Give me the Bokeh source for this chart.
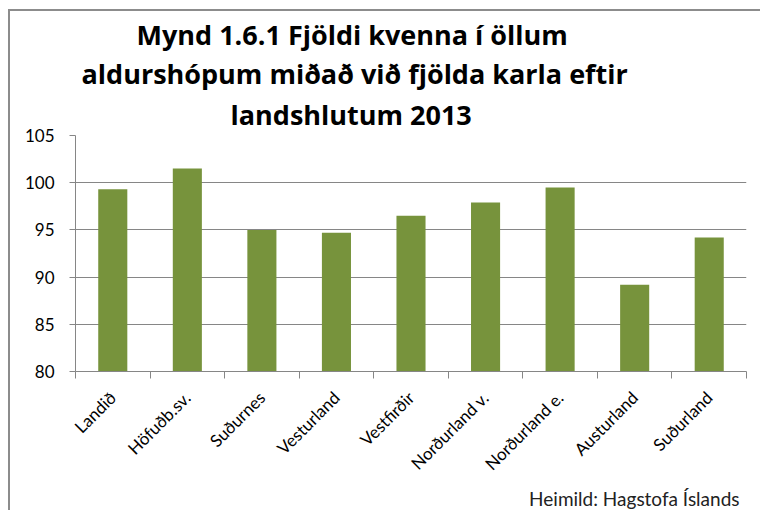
from math import pi
from bokeh.plotting import figure
from bokeh.models import Range1d, FixedTicker, Title, ColumnDataSource
from bokeh.embed import file_html
from bokeh.resources import INLINE

categories = ["Landið", "Höfuðb.sv.", "Suðurnes", "Vesturland", "Vestfirðir",
              "Norðurland v.", "Norðurland e.", "Austurland", "Suðurland"]
values = [99.3, 101.5, 95.0, 94.7, 96.5, 97.9, 99.5, 89.2, 94.2]
y_ticks = [80, 85, 90, 95, 100, 105]
title_lines = ["Mynd 1.6.1 Fjöldi kvenna í öllum",
               "aldurshópum miðað við fjölda karla eftir",
               "landshlutum 2013"]
title_offsets = [61, 6, 155]
source_text = "Heimild: Hagstofa Íslands"

GRID = "#868686"
BAR = "#77933C"
FONT = "Lato"
TFONT = "Open Sans"

centers = [i + 0.5 for i in range(len(categories))]
src = ColumnDataSource(dict(x=centers, top=values, cat=categories))

p = figure(width=752, height=501, output_backend="svg", toolbar_location=None,
           x_range=Range1d(0, len(categories)), y_range=Range1d(80, 105),
           min_border_left=65, min_border_right=16, min_border_top=124, min_border_bottom=141,
           outline_line_color=None, background_fill_color="white", border_fill_color="white",
           margin=(9, 0, 0, 8),
           styles={"border-left": "2px solid #8c8c8c", "border-top": "2px solid #8c8c8c"})

p.vbar(x="x", top="top", bottom=80, width=0.39, source=src, fill_color=BAR, line_color=None)

# y axis
p.yaxis.ticker = FixedTicker(ticks=y_ticks)
p.yaxis.axis_line_color = GRID
p.yaxis.major_tick_line_color = GRID
p.yaxis.major_tick_out = 6
p.yaxis.major_tick_in = 0
p.yaxis.minor_tick_line_color = None
p.yaxis.major_label_text_font = FONT
p.yaxis.major_label_text_font_size = "17px"
p.yaxis.major_label_text_color = "#000000"
p.yaxis.major_label_standoff = 15

# x axis
p.xaxis.ticker = FixedTicker(ticks=centers, minor_ticks=list(range(len(categories) + 1)))
p.xaxis.major_label_overrides = {c: name for c, name in zip(centers, categories)}
p.xaxis.major_label_orientation = pi / 4
p.xaxis.axis_line_color = GRID
p.xaxis.major_tick_line_color = None
p.xaxis.minor_tick_line_color = GRID
p.xaxis.minor_tick_out = 7
p.xaxis.minor_tick_in = 0
p.xaxis.major_label_text_font = FONT
p.xaxis.major_label_text_font_size = "17px"
p.xaxis.major_label_text_color = "#000000"
p.xaxis.major_label_standoff = 16

p.xgrid.grid_line_color = None
p.ygrid.ticker = FixedTicker(ticks=y_ticks)
p.ygrid.grid_line_color = GRID
p.ygrid.grid_line_width = 1

for i in reversed(range(len(title_lines))):
    p.add_layout(Title(text=title_lines[i], align="left", offset=title_offsets[i],
                       text_font=TFONT, text_font_style="bold", text_font_size="27px",
                       text_color="#000000", standoff=5 if i == 2 else 0), "above")

p.add_layout(Title(text=source_text, align="right", offset=7, standoff=0,
                   text_font=FONT, text_font_style="normal", text_font_size="19px",
                   text_color="#222222"), "below")

open("out.html", "w").write(file_html(p, INLINE))
